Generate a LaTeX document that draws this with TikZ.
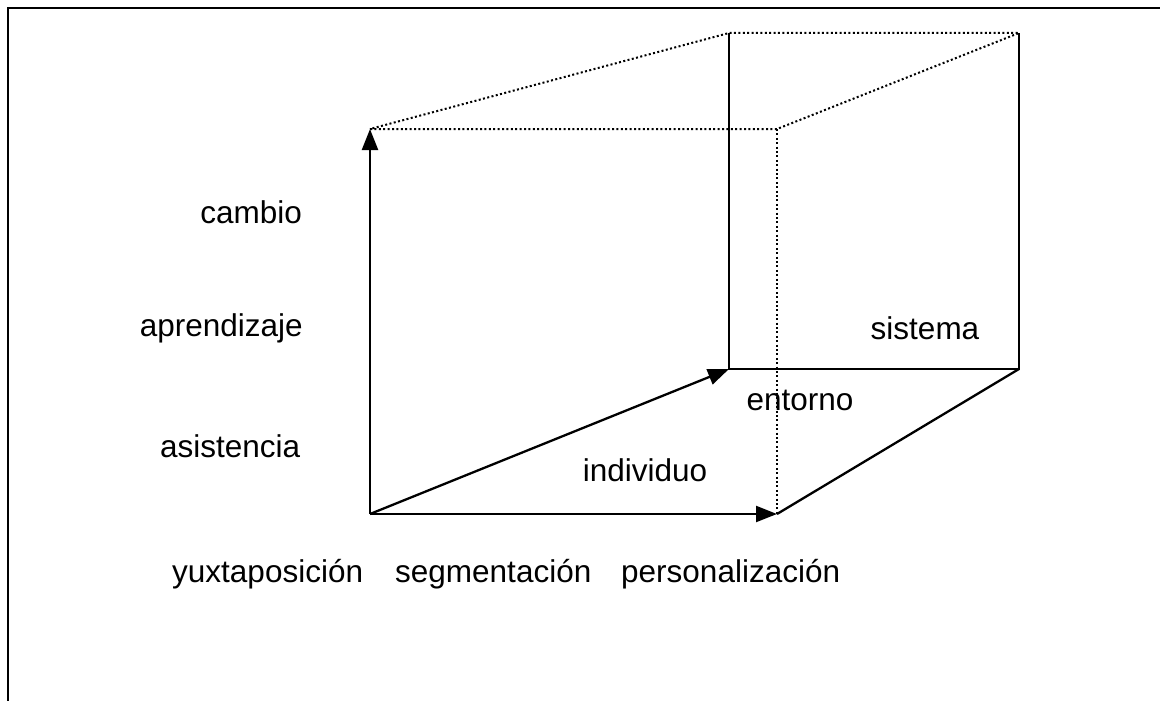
\documentclass[tikz,border=0pt]{standalone}
\usepackage{fontspec}
\setmainfont{Liberation Sans}
\usetikzlibrary{arrows.meta}
\begin{document}
\begin{tikzpicture}[x=1pt,y=-1pt,
  solidline/.style={line width=2.3pt},
  dotline/.style={line width=2pt, dash pattern=on 2pt off 2.4pt},
  arr/.style={solidline,-{Triangle[length=21pt,width=16pt]}},
  lbl/.style={font=\fontsize{31.5}{36}\selectfont, inner sep=0pt},
  framel/.style={line width=2.4pt}]
\useasboundingbox (0,0) rectangle (1160,701);
% frame (top and left only)
\coordinate (ftl) at (8,8);
\coordinate (ftr) at (1160,8);
\coordinate (fbl) at (8,701);
\draw[framel] (ftr) -- (ftl) -- (fbl);
% cube corners
\coordinate (O) at (370,514);
\coordinate (A) at (370,129);
\coordinate (B) at (777,514);
\coordinate (C) at (729,369);
\coordinate (D) at (777,129);
\coordinate (E) at (729,33);
\coordinate (F) at (1019,33);
\coordinate (G) at (1019,369);
% arrows
\draw[arr] (O) -- (A);
\draw[arr] (O) -- (B);
\draw[arr] (O) -- (C);
% solid edges
\draw[solidline] (E) -- (C) -- (G) -- (F);
\draw[solidline] (B) -- (G);
% dotted edges
\draw[dotline] (A) -- (D) -- (F) -- (E) -- (A);
\draw[dotline] (D) -- (B);
% labels
\node[lbl, anchor=east] (cambio) at (302,212) {cambio};
\node[lbl, anchor=east] (aprend) at (303,328) {aprendizaje};
\node[lbl, anchor=west] (asist) at (160,446) {asistencia};
\node[lbl, anchor=west] (yuxt) at (172,574) {yuxtaposición};
\node[lbl, anchor=west] (segm) at (395,574) {segmentación};
\node[lbl, anchor=west] (pers) at (621,574) {personalización};
\node[lbl] (indiv) at (645,470) {individuo};
\node[lbl] (entorno) at (800,400) {entorno};
\node[lbl] (sistema) at (925,328) {sistema};
\end{tikzpicture}
\end{document}
